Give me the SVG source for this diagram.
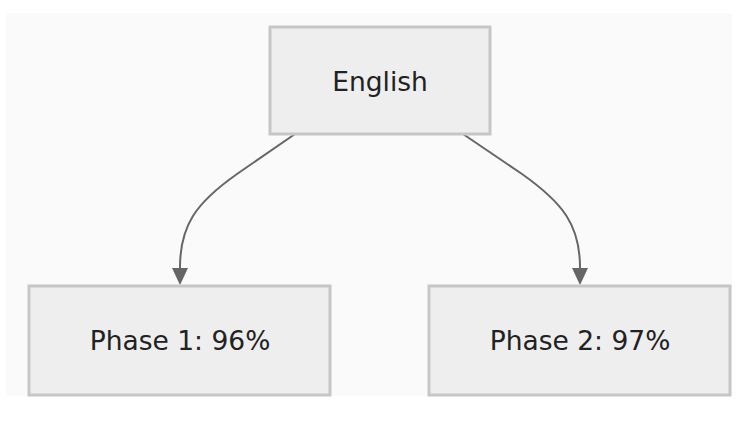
<svg xmlns="http://www.w3.org/2000/svg" width="747" height="423" viewBox="0 0 747 423">
  <style>
    .node rect { fill: #eeeeee; stroke: #c6c6c6; stroke-width: 3; }
    .node text { font-family: "DejaVu Sans", Verdana, sans-serif; font-size: 26.5px; fill: #222222; text-anchor: middle; dominant-baseline: central; }
    .edge { fill: none; stroke: #666666; stroke-width: 2; }
  </style>
  <defs>
    <marker id="arrow" markerUnits="userSpaceOnUse" markerWidth="18" markerHeight="18" refX="0" refY="8" orient="auto" viewBox="0 0 18 16">
      <path d="M0,0 L17,8 L0,16 Z" fill="#666666"/>
    </marker>
  </defs>
  <rect x="6" y="13" width="726" height="383" fill="#fafafa"/>
  <g id="edges">
    <path class="edge" d="M295,134 L237,174 C196,203 180,225 180,267.5 L180,268" marker-end="url(#arrow)"/>
    <path class="edge" d="M463,134 L522,174 C563,203 580,225 580,267.5 L580,268" marker-end="url(#arrow)"/>
  </g>
  <g id="english" class="node">
    <rect x="270" y="27" width="220" height="107"/>
    <text x="380" y="81">English</text>
  </g>
  <g id="phase1" class="node">
    <rect x="29" y="286" width="301" height="109"/>
    <text x="180" y="340">Phase 1: 96%</text>
  </g>
  <g id="phase2" class="node">
    <rect x="429" y="286" width="301" height="109"/>
    <text x="580" y="340">Phase 2: 97%</text>
  </g>
</svg>
